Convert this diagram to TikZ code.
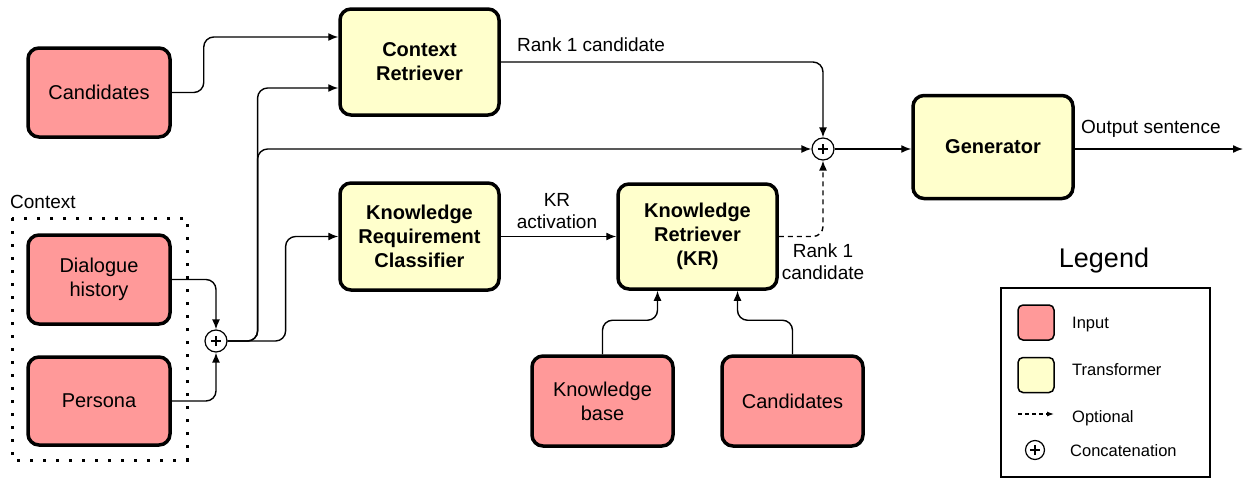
\documentclass[tikz,border=0pt]{standalone}
\usepackage{fontspec}
\setmainfont{Liberation Sans}
\usetikzlibrary{arrows.meta,calc}
\definecolor{inpink}{HTML}{FF9999}
\definecolor{tfyellow}{HTML}{FFFFCC}
\tikzset{
  box/.style={draw=black, line width=3.5pt, rounded corners=11pt, align=center,
    font=\fontsize{20}{24}\selectfont, inner sep=2pt},
  inbox/.style={box, fill=inpink},
  tfbox/.style={box, fill=tfyellow, font=\fontsize{20}{24}\selectfont\bfseries},
  arr/.style={draw=black, line width=1.4pt, rounded corners=10pt,
    -{Latex[length=10pt,width=8pt]}},
  concat/.style={circle, draw=black, line width=1.2pt, minimum size=22pt, inner sep=0pt,
    path picture={\draw[line width=1.4pt] ([xshift=-5pt]path picture bounding box.center) -- ([xshift=5pt]path picture bounding box.center)
      ([yshift=-5pt]path picture bounding box.center) -- ([yshift=5pt]path picture bounding box.center);}},
  lbl/.style={font=\fontsize{19}{22}\selectfont, inner sep=0pt, align=center},
  legtxt/.style={font=\fontsize{16.5}{20}\selectfont, inner sep=0pt, anchor=west},
  swatch/.style={draw=black, line width=1.5pt, rounded corners=5pt, minimum width=36pt, minimum height=35pt, inner sep=0pt}
}
\begin{document}
\begin{tikzpicture}[x=1pt,y=-1pt]
\useasboundingbox (0,0) rectangle (1248,479);

% context group
\draw[line width=3pt, dash pattern=on 3pt off 10pt] (12,218) rectangle (187,460);
\node[lbl, anchor=west] (ctxlbl) at (10,202) {Context};

% blocks
\node[inbox, minimum width=142pt, minimum height=89pt] (cand1) at (99,92.5) {Candidates};
\node[inbox, minimum width=142pt, minimum height=89pt] (dh) at (99,279.5) {Dialogue\\history};
\node[inbox, minimum width=142pt, minimum height=88pt] (pers) at (99,401) {Persona};
\node[tfbox, minimum width=159pt, minimum height=106pt] (cr) at (419.5,62) {Context\\Retriever};
\node[tfbox, minimum width=159pt, minimum height=107pt] (krc) at (419.5,236.5) {Knowledge\\Requirement\\Classifier};
\node[tfbox, minimum width=159pt, minimum height=105pt] (kr) at (697.5,236.5) {Knowledge\\Retriever\\(KR)};
\node[tfbox, minimum width=160pt, minimum height=103pt] (gen) at (993,147) {Generator};
\node[inbox, minimum width=141pt, minimum height=90pt] (kb) at (602.5,401) {Knowledge\\base};
\node[inbox, minimum width=141pt, minimum height=90pt] (cand2) at (792.5,401) {Candidates};

% concatenation points
\node[concat] (c1) at (216,341) {};
\node[concat] (c2) at (823,149) {};

% connectors
\draw[arr] (dh.east) -| (c1.north);
\draw[arr] (pers.east) -| (c1.south);
\draw[arr] (cand1.east) -- ++(32,0) |- ([yshift=25pt]cr.west);
\draw[arr] (c1.east) -- ++(30,0) |- ([yshift=-26pt]cr.west);
\draw[arr] (c1.east) -- ++(30,0) |- (c2.west);
\draw[arr] (c1.east) -- ++(58,0) |- (krc.west);
\draw[arr] (cr.east) -| (c2.north);
\draw[arr] (krc.east) -- (kr.west);
\draw[arr, dashed, dash pattern=on 5pt off 4pt] (kr.east) -| (c2.south);
\draw[arr] (kb.north) -- ++(0,-34) -| ([xshift=-40pt]kr.south);
\draw[arr] (cand2.north) -- ++(0,-34) -| ([xshift=40pt]kr.south);
\draw[arr] (c2.east) -- (c2.east -| gen.west);
\coordinate (out) at (1243,149);
\draw[arr] (gen.east |- out) -- (out);

% connector labels
\node[lbl, anchor=west] (rank1a) at (517,45) {Rank 1 candidate};
\node[lbl] (kract) at (557,211) {KR\\activation};
\node[lbl] (rank1b) at (823,262) {Rank 1\\candidate};
\node[lbl, anchor=west] (outlbl) at (1081,129) {Output sentence};

% legend
\node[font=\fontsize{27}{30}\selectfont, inner sep=0pt] (legtitle) at (1104,261) {Legend};
\draw[line width=1.2pt] (1001,288) rectangle (1210,477);
\node[swatch, fill=inpink] (swin) at (1036,322.5) {};
\node[legtxt] (lin) at (1072,325) {Input};
\node[swatch, fill=tfyellow] (swtf) at (1036,375) {};
\node[legtxt] (ltf) at (1072,370) {Transformer};
\coordinate (dashA) at (1018,414);
\coordinate (dashB) at (1054,414);
\draw[line width=1.2pt, dash pattern=on 4pt off 3pt, -{Latex[length=7pt,width=5pt]}] (dashA) -- (dashB);
\node[legtxt] (lopt) at (1072,418) {Optional};
\node[concat, minimum size=19pt] (swc) at (1035,450) {};
\node[legtxt] (lcat) at (1070,451) {Concatenation};
\end{tikzpicture}
\end{document}
